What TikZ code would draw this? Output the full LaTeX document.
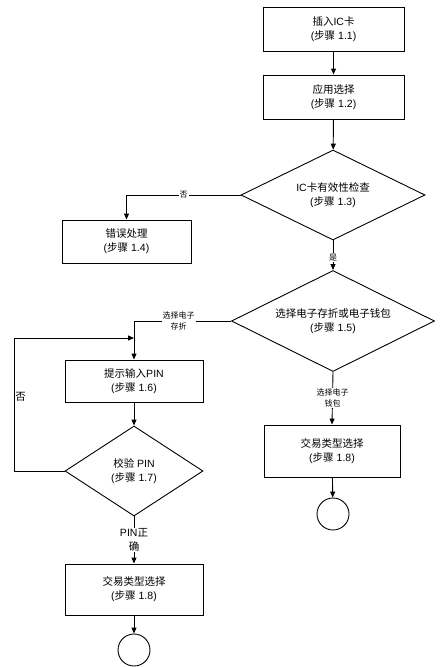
\documentclass[tikz,border=0pt]{standalone}
\usepackage{fontspec}
\setmainfont{Liberation Sans}
\newfontfamily\cjk{Noto Sans CJK SC}
\newcommand{\zh}[1]{{\cjk #1}}
\usetikzlibrary{shapes.geometric,arrows.meta}
\tikzset{
  stepbox/.style={draw, line width=0.9pt, align=center, inner sep=1pt, font=\fontsize{10.5}{14}\selectfont},
  check/.style={diamond, aspect=2, draw, line width=0.9pt, align=center, inner sep=0pt, font=\fontsize{10.5}{14}\selectfont},
  stopnode/.style={circle, draw, line width=0.9pt, minimum size=32pt, inner sep=0pt},
  lab/.style={fill=white, inner sep=1pt, align=center, font=\fontsize{8}{11}\selectfont},
  biglab/.style={inner sep=1pt, align=center, font=\fontsize{10.5}{14}\selectfont},
  flow/.style={line width=0.9pt, -{Triangle[length=6pt,width=5pt]}}
}
\begin{document}
\begin{tikzpicture}[x=1pt,y=-1pt]
\useasboundingbox (0,0) rectangle (440,667);
%% right column
\node[stepbox, minimum width=141pt, minimum height=44pt] (s11) at (333.5,29) {\zh{插入}IC\zh{卡}\\(\zh{步骤} 1.1)};
\node[stepbox, minimum width=141pt, minimum height=44pt] (s12) at (333.5,97) {\zh{应用选择}\\(\zh{步骤} 1.2)};
\node[check, minimum width=184pt, minimum height=90pt] (s13) at (333,195) {IC\zh{卡有效性检查}\\(\zh{步骤} 1.3)};
\node[stepbox, minimum width=129pt, minimum height=43pt] (s14) at (126.5,241.5) {\zh{错误处理}\\(\zh{步骤} 1.4)};
\node[check, minimum width=203pt, minimum height=101pt] (s15) at (333,321) {\zh{选择电子存折或电子钱包}\\(\zh{步骤} 1.5)};
\node[stepbox, minimum width=136pt, minimum height=52pt] (s18r) at (332,451) {\zh{交易类型选择}\\(\zh{步骤} 1.8)};
\node[stopnode] (endr) at (333,514) {};
%% left column
\node[stepbox, minimum width=138pt, minimum height=42pt] (s16) at (134,381) {\zh{提示输入}PIN\\(\zh{步骤} 1.6)};
\node[check, aspect=1.5, minimum width=138pt, minimum height=90pt] (s17) at (134,471) {\zh{校验} PIN\\(\zh{步骤} 1.7)};
\node[stepbox, minimum width=138pt, minimum height=51pt] (s18l) at (134,589.5) {\zh{交易类型选择}\\(\zh{步骤} 1.8)};
\node[stopnode] (endl) at (134,650) {};
\coordinate (join) at (134,338);
%%%%
\draw[flow] (s11) -- (s12);
\draw[flow] (s12) -- (s13);
\draw[flow] (s13.west) -| node[lab, pos=0.25] {\zh{否}} (s14.north);
\draw[flow] (s13.south) -- node[lab, pos=0.57] {\zh{是}} (s15.north);
\draw[flow] (s15.west) -| node[lab, pos=0.27] {\zh{选择电子}\\\zh{存折}} (s16.north);
\draw[flow] (s15.south) -- node[lab] {\zh{选择电子}\\\zh{钱包}} (s18r.north);
\draw[flow] (s18r) -- (endr);
\draw[flow] (s16) -- (s17);
\draw[flow] (s17.south) -- node[biglab, fill=white] {PIN\zh{正}\\\zh{确}} (s18l.north);
\draw[flow] (s18l) -- (endl);
\draw[flow] (s17.west) -- (14,471) |- node[biglab, pos=0.28, right] {\zh{否}} (join);
\end{tikzpicture}
\end{document}
